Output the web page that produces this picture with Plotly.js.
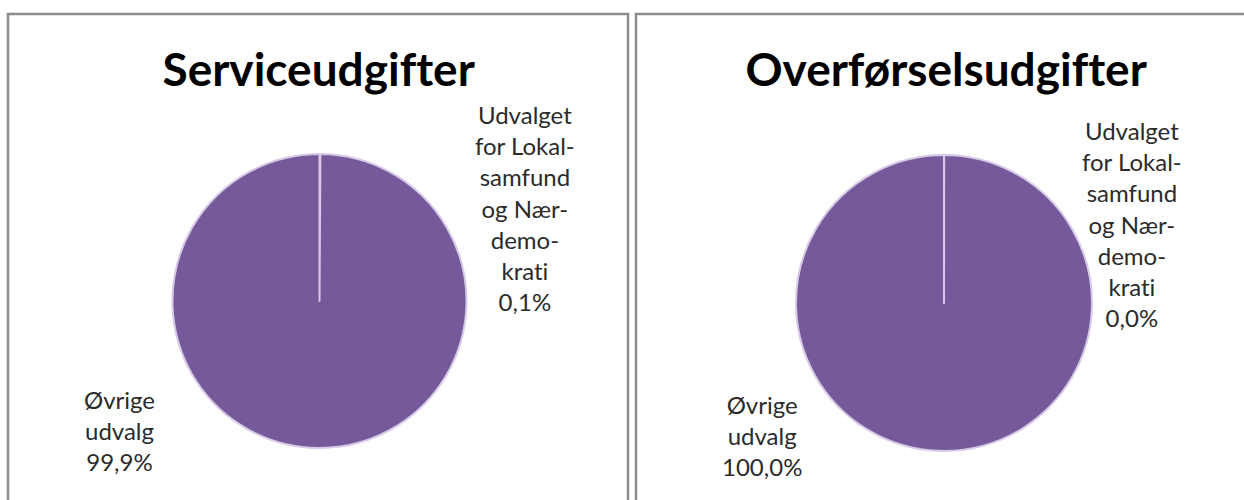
<!DOCTYPE html>
<html>
<head>
<meta charset="utf-8">
<script src="https://cdn.plot.ly/plotly-3.0.1.min.js"></script>
<style>html,body{margin:0;padding:0;background:#fff;}#chart{width:1244px;height:500px;}
#chart text{font-variant-ligatures:none;font-feature-settings:"liga" 0;}</style>
</head>
<body>
<div id="chart"></div>
<script>
// ---- data ----
const chartTitles = ['Serviceudgifter', 'Overførselsudgifter'];
const categories = ['Udvalget for Lokalsamfund og Nærdemokrati', 'Øvrige udvalg'];
const categoryLabelLines = [
  ['Udvalget', 'for Lokal-', 'samfund', 'og Nær-', 'demo-', 'krati'],
  ['Øvrige', 'udvalg']
];
const serviceValues = [0.1, 99.9];
const overforselValues = [0.02, 99.98];

// ---- style ----
const W = 1244, H = 500;
const px = x => x / W;
const py = y => 1 - y / H;
const purple = '#76599A';
const sliceLine = '#d6cae6';
const labelFont = {family: 'Lato, "Open Sans", sans-serif', size: 24, color: '#2b2b2b'};
const titleFont = {family: 'Lato, "Open Sans", sans-serif', size: 46, color: '#000'};

function pct(vals, i) {
  const s = vals.reduce((a, b) => a + b, 0);
  return (vals[i] / s * 100).toFixed(1).replace('.', ',') + '%';
}
function labelText(vals, i) {
  return categoryLabelLines[i].concat([pct(vals, i)]).join('<br>');
}

const pies = [
  {vals: serviceValues, cx: 319.5, cy: 301, r: 147},
  {vals: overforselValues, cx: 944, cy: 303, r: 148}
];

const data = pies.map(p => ({
  type: 'pie',
  labels: categories,
  values: p.vals,
  sort: false,
  direction: 'clockwise',
  rotation: 0,
  textinfo: 'none',
  hoverinfo: 'none',
  showlegend: false,
  marker: {colors: [purple, purple], line: {color: sliceLine, width: 2}},
  domain: {x: [px(p.cx - p.r), px(p.cx + p.r)], y: [py(p.cy + p.r), py(p.cy - p.r)]}
}));

const labelPos = [
  // [panel][category] -> center x, center y
  [[525, 208], [120, 430]],
  [[1132, 224], [762, 435]]
];
const titlePos = [[318, 68], [946, 68]];

const annotations = [];
pies.forEach((p, k) => {
  annotations.push({
    xref: 'paper', yref: 'paper', x: px(titlePos[k][0]), y: py(titlePos[k][1]),
    xanchor: 'center', yanchor: 'middle', showarrow: false,
    text: '<b>' + chartTitles[k] + '</b>', font: titleFont
  });
  categories.forEach((c, i) => {
    annotations.push({
      xref: 'paper', yref: 'paper', x: px(labelPos[k][i][0]), y: py(labelPos[k][i][1]),
      xanchor: 'center', yanchor: 'middle', align: 'center', showarrow: false,
      text: labelText(p.vals, i), font: labelFont
    });
  });
});

const shapes = [
  {type: 'rect', xref: 'paper', yref: 'paper', x0: px(8), x1: px(628), y0: py(520), y1: py(14),
   line: {color: '#8c8c8c', width: 2.5}},
  {type: 'rect', xref: 'paper', yref: 'paper', x0: px(636), x1: px(1260), y0: py(520), y1: py(14),
   line: {color: '#8c8c8c', width: 2.5}}
];

const layout = {
  width: W, height: H,
  margin: {l: 0, r: 0, t: 0, b: 0},
  paper_bgcolor: '#fff',
  annotations: annotations,
  shapes: shapes
};

Plotly.newPlot('chart', data, layout, {displayModeBar: false, staticPlot: true});
</script>
</body>
</html>
